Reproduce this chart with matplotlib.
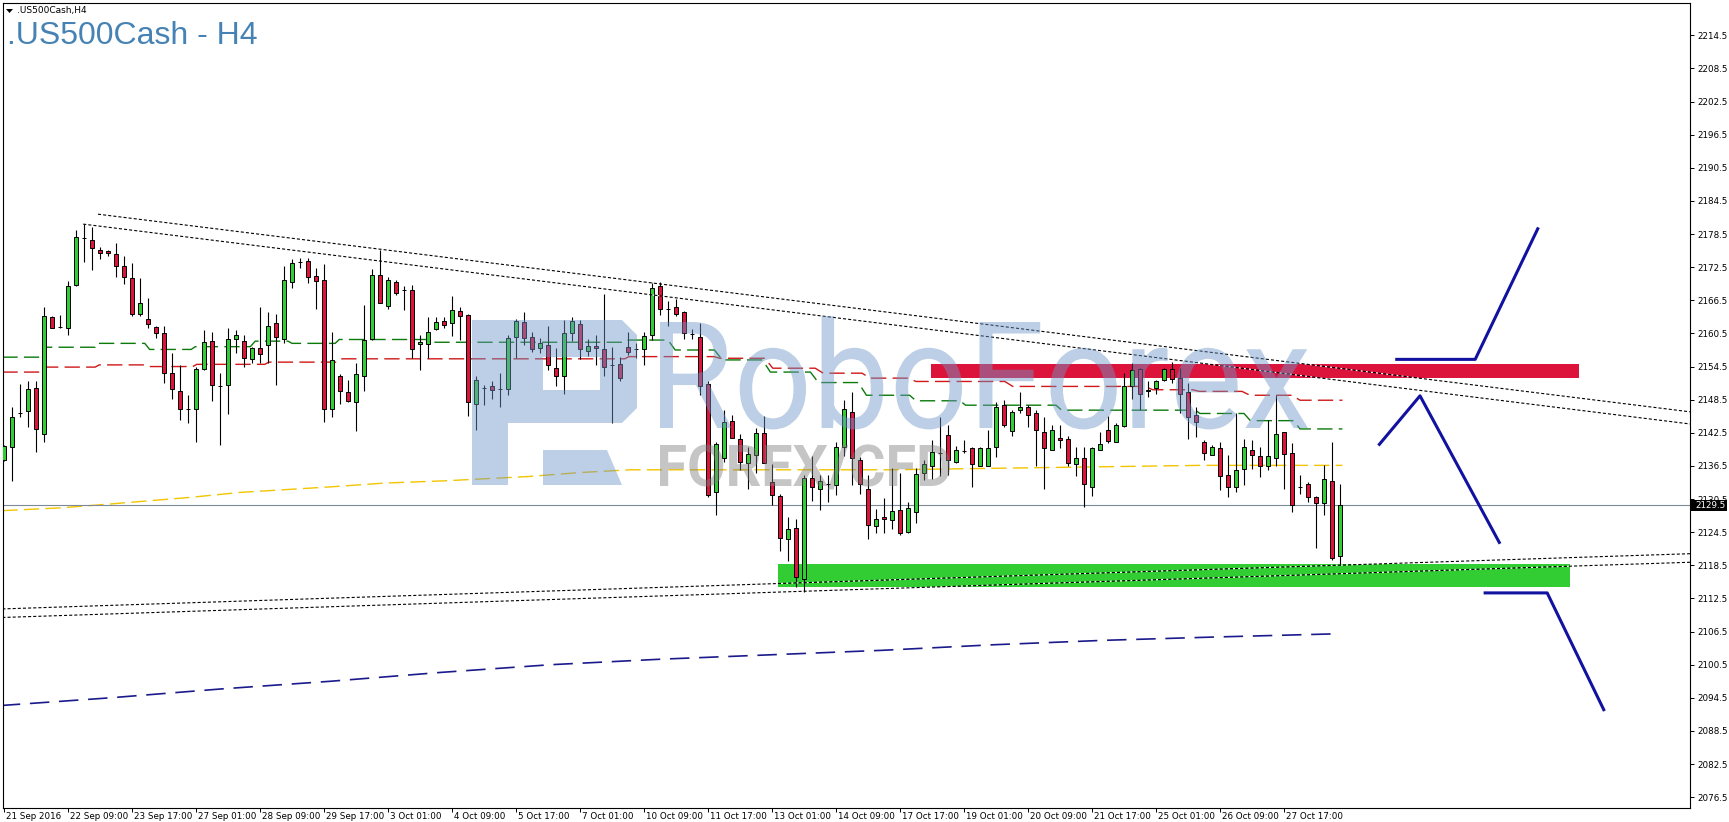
import matplotlib
matplotlib.use("Agg")
import matplotlib.pyplot as plt
from matplotlib.patches import Rectangle, PathPatch, Polygon
from matplotlib.path import Path
from matplotlib.textpath import TextPath
from matplotlib.font_manager import FontProperties
from matplotlib.transforms import Affine2D, IdentityTransform
import numpy as np

plt.rcParams['lines.scale_dashes'] = False

W, H = 1729, 822

# ---- candles (H4 bars, index 0 = 21 Sep 2016 01:00) ----
opens = [2137.6, 2140.0, 2146.0, 2146.4, 2150.6, 2142.2, 2163.4, 2161.6, 2161.4, 2169.3,
         2177.7, 2177.5, 2175.6, 2175.4, 2174.8, 2172.8, 2170.5, 2164.0, 2163.2, 2161.7,
         2160.5, 2153.4, 2150.0, 2146.9, 2146.8, 2154.1, 2159.2, 2151.0, 2151.2, 2159.4,
         2159.1, 2155.9, 2157.8, 2158.4, 2162.3, 2159.4, 2169.8, 2173.5, 2173.6, 2170.9,
         2170.1, 2146.9, 2152.7, 2149.8, 2148.0, 2152.7, 2159.5, 2171.0, 2165.4, 2169.9,
         2168.4, 2168.4, 2158.5, 2158.5, 2161.3, 2162.7, 2162.4, 2164.6, 2163.8, 2147.7,
         2150.6, 2150.9, 2150.4, 2150.4, 2159.9, 2162.5, 2159.8, 2157.8, 2158.4, 2154.3,
         2152.7, 2160.6, 2162.2, 2157.3, 2158.2, 2157.7, 2154.8, 2154.9, 2158.1, 2157.7,
         2157.6, 2160.3, 2169.0, 2165.0, 2165.2, 2164.3, 2160.4, 2159.9, 2151.3, 2131.7,
         2138.0, 2144.7, 2141.3, 2137.0, 2138.5, 2142.5, 2133.5, 2131.1, 2123.2, 2125.2,
         2116.0, 2134.3, 2132.4, 2133.3, 2133.0, 2140.0, 2146.3, 2137.5, 2132.3, 2125.6,
         2127.2, 2126.7, 2128.6, 2124.5, 2128.2, 2135.3, 2136.4, 2138.9, 2142.1, 2137.3,
         2139.2, 2139.7, 2136.5, 2136.5, 2140.0, 2147.5, 2142.8, 2146.6, 2147.1, 2146.0,
         2142.7, 2139.4, 2141.6, 2141.3, 2136.9, 2138.0, 2132.7, 2139.4, 2143.0, 2140.9,
         2143.7, 2150.9, 2154.0, 2150.0, 2150.6, 2152.1, 2154.0, 2152.4, 2149.8, 2145.8,
         2140.9, 2138.5, 2139.7, 2134.9, 2132.7, 2135.9, 2139.4, 2138.3, 2136.4, 2137.9,
         2142.6, 2138.8, 2132.7, 2133.2, 2130.8, 2129.8, 2133.8, 2120.2]
highs = [2140.3, 2147.2, 2151.3, 2151.8, 2151.8, 2165.2, 2163.7, 2163.8, 2170.0, 2179.2,
         2180.3, 2179.8, 2176.2, 2175.7, 2176.9, 2174.5, 2173.2, 2170.5, 2166.9, 2161.9,
         2161.9, 2157.0, 2154.8, 2149.3, 2154.5, 2161.1, 2160.8, 2153.3, 2161.5, 2161.1,
         2160.2, 2158.1, 2165.2, 2164.3, 2164.1, 2172.7, 2174.0, 2174.1, 2174.1, 2172.3,
         2173.0, 2160.8, 2153.1, 2152.1, 2155.1, 2165.6, 2172.1, 2175.7, 2170.7, 2170.2,
         2169.1, 2169.2, 2160.2, 2163.5, 2163.5, 2163.4, 2167.2, 2165.3, 2164.1, 2152.8,
         2151.1, 2151.9, 2153.3, 2160.2, 2163.2, 2164.4, 2160.8, 2159.6, 2161.8, 2157.8,
         2162.9, 2163.5, 2162.9, 2159.4, 2160.2, 2167.6, 2158.1, 2156.3, 2160.8, 2158.7,
         2160.8, 2169.9, 2169.9, 2166.3, 2166.7, 2164.6, 2161.3, 2162.4, 2151.9, 2140.9,
         2146.6, 2145.8, 2142.3, 2140.0, 2143.4, 2145.5, 2136.8, 2131.4, 2127.2, 2126.8,
         2134.9, 2138.3, 2134.9, 2134.9, 2140.9, 2148.4, 2149.8, 2138.2, 2134.9, 2128.7,
         2130.6, 2136.2, 2135.2, 2130.0, 2136.1, 2137.6, 2141.2, 2145.4, 2143.9, 2140.1,
         2141.2, 2140.0, 2140.0, 2143.0, 2148.1, 2148.4, 2146.7, 2149.9, 2147.5, 2146.6,
         2145.4, 2143.9, 2143.9, 2141.9, 2140.0, 2140.0, 2140.0, 2142.7, 2145.5, 2144.2,
         2153.3, 2155.1, 2154.3, 2151.8, 2152.1, 2154.2, 2155.4, 2154.2, 2151.5, 2147.2,
         2141.2, 2140.3, 2140.9, 2138.5, 2146.0, 2141.3, 2141.2, 2140.0, 2144.8, 2149.3,
         2142.7, 2140.6, 2134.9, 2133.5, 2131.0, 2136.7, 2140.8, 2133.3]
lows = [2137.4, 2133.7, 2145.3, 2143.5, 2139.1, 2140.9, 2161.4, 2161.4, 2160.3, 2169.0,
        2173.5, 2171.9, 2174.0, 2174.5, 2170.8, 2169.5, 2163.7, 2163.7, 2161.5, 2159.7,
        2151.5, 2148.7, 2144.9, 2144.3, 2140.8, 2153.9, 2148.2, 2140.2, 2145.9, 2156.9,
        2154.4, 2155.1, 2155.2, 2155.1, 2151.2, 2158.8, 2168.8, 2172.3, 2169.7, 2164.9,
        2144.4, 2145.4, 2147.7, 2148.1, 2142.9, 2150.1, 2159.3, 2166.0, 2165.0, 2167.5,
        2164.7, 2156.0, 2153.9, 2156.0, 2161.1, 2161.4, 2160.0, 2159.3, 2145.6, 2143.0,
        2147.5, 2148.6, 2147.2, 2149.3, 2156.0, 2158.4, 2157.2, 2157.0, 2153.9, 2150.9,
        2149.6, 2159.2, 2155.8, 2156.4, 2154.8, 2152.7, 2144.3, 2151.8, 2156.6, 2156.0,
        2154.8, 2159.3, 2163.8, 2161.8, 2163.7, 2159.4, 2159.4, 2149.3, 2130.9, 2127.6,
        2137.3, 2141.5, 2135.8, 2132.4, 2135.3, 2137.0, 2129.5, 2121.1, 2119.3, 2114.5,
        2113.7, 2130.2, 2128.6, 2129.9, 2131.2, 2138.3, 2133.0, 2131.4, 2123.2, 2124.4,
        2124.3, 2125.0, 2123.9, 2124.3, 2126.2, 2133.9, 2134.1, 2134.7, 2134.9, 2137.0,
        2138.8, 2132.7, 2136.4, 2136.5, 2138.2, 2143.5, 2141.9, 2146.0, 2143.5, 2136.5,
        2132.4, 2139.3, 2139.7, 2136.4, 2134.6, 2129.1, 2131.1, 2139.3, 2140.7, 2140.8,
        2143.6, 2148.7, 2146.6, 2148.9, 2149.5, 2151.8, 2151.5, 2146.0, 2141.3, 2141.8,
        2137.6, 2138.5, 2132.2, 2130.8, 2131.7, 2133.0, 2136.0, 2134.5, 2135.8, 2136.4,
        2132.4, 2128.2, 2131.5, 2130.0, 2121.7, 2127.7, 2119.4, 2118.5]
closes = [2140.1, 2145.4, 2146.0, 2150.4, 2143.1, 2163.7, 2161.4, 2161.6, 2169.0, 2177.9,
          2177.7, 2175.9, 2175.0, 2175.0, 2172.7, 2170.7, 2164.1, 2166.0, 2162.2, 2160.5,
          2153.3, 2150.4, 2146.9, 2146.9, 2154.1, 2159.0, 2151.2, 2151.0, 2159.4, 2160.3,
          2156.0, 2157.9, 2156.8, 2161.9, 2159.8, 2170.2, 2173.2, 2173.5, 2170.7, 2170.0,
          2146.9, 2155.7, 2150.1, 2148.3, 2153.1, 2159.3, 2171.0, 2166.0, 2170.2, 2167.9,
          2168.4, 2157.6, 2158.9, 2160.8, 2162.5, 2162.1, 2164.7, 2163.7, 2148.0, 2152.0,
          2150.6, 2150.3, 2150.4, 2159.6, 2162.7, 2159.6, 2157.6, 2158.7, 2154.8, 2152.8,
          2160.5, 2162.7, 2157.6, 2158.3, 2157.8, 2154.4, 2154.8, 2152.5, 2157.2, 2157.7,
          2160.1, 2168.8, 2164.9, 2165.0, 2164.0, 2160.5, 2160.4, 2151.0, 2131.3, 2140.4,
          2144.5, 2141.5, 2137.3, 2138.6, 2142.4, 2137.1, 2131.3, 2123.4, 2125.1, 2116.3,
          2134.4, 2132.6, 2133.8, 2133.3, 2139.9, 2146.8, 2137.9, 2133.2, 2125.8, 2126.8,
          2126.8, 2128.4, 2124.3, 2128.8, 2135.0, 2136.8, 2139.0, 2138.9, 2137.6, 2139.4,
          2139.2, 2136.8, 2139.7, 2139.8, 2147.2, 2144.0, 2146.3, 2147.2, 2145.8, 2143.0,
          2139.7, 2143.0, 2141.2, 2137.1, 2138.0, 2133.2, 2139.7, 2140.5, 2141.1, 2143.9,
          2151.0, 2153.9, 2149.5, 2150.2, 2151.8, 2154.0, 2152.2, 2149.5, 2145.4, 2144.4,
          2138.8, 2140.0, 2134.6, 2132.7, 2135.8, 2139.9, 2138.5, 2136.5, 2138.3, 2142.2,
          2138.6, 2129.5, 2132.7, 2130.8, 2129.7, 2134.1, 2119.9, 2129.5]

date_labels = ["21 Sep 2016", "22 Sep 09:00", "23 Sep 17:00", "27 Sep 01:00", "28 Sep 09:00",
               "29 Sep 17:00", "3 Oct 01:00", "4 Oct 09:00", "5 Oct 17:00", "7 Oct 01:00",
               "10 Oct 09:00", "11 Oct 17:00", "13 Oct 01:00", "14 Oct 09:00", "17 Oct 17:00",
               "19 Oct 01:00", "20 Oct 09:00", "21 Oct 17:00", "25 Oct 01:00", "26 Oct 09:00",
               "27 Oct 17:00"]
bars_per_label = 8

price_ticks = [2076.5, 2082.5, 2088.5, 2094.5, 2100.5, 2106.5, 2112.5, 2118.5, 2124.5,
               2130.5, 2136.5, 2142.5, 2148.5, 2154.5, 2160.5, 2166.5, 2172.5, 2178.5,
               2184.5, 2190.5, 2196.5, 2202.5, 2208.5, 2214.5]
bid_price = 2129.5

# ---- indicator step lines (bar index, price) ----
ma_green_x = [-0.2, 4.8, 5.0, 11.4, 11.6, 17.6, 18.2, 23.4, 23.9, 30.8, 31.4, 35.5, 36.0, 41.4,
              41.9, 53.2, 53.9, 77.2, 77.8, 83.0, 83.9, 88.8, 89.8, 94.8, 95.8, 100.8, 101.8,
              106.8, 107.8, 113.2, 114.0, 119.5, 120.2, 131.5, 132.2, 148.9, 149.5, 155.0,
              155.8, 161.2, 162.0, 167.3]
ma_green_y = [2156.2, 2156.2, 2158.0, 2158.0, 2158.7, 2158.7, 2157.6, 2157.6, 2158.1, 2158.1,
              2159.1, 2159.1, 2158.7, 2158.7, 2159.4, 2159.4, 2158.9, 2158.9, 2159.3, 2159.3,
              2157.5, 2157.5, 2155.7, 2155.7, 2153.5, 2153.5, 2151.6, 2151.6, 2149.3, 2149.3,
              2148.3, 2148.3, 2147.5, 2147.5, 2146.6, 2146.6, 2146.0, 2146.0, 2144.7, 2144.7,
              2143.2, 2143.2]
ma_red_x = [-0.2, 4.6, 5.1, 11.4, 11.9, 17.6, 18.1, 23.6, 24.1, 32.6, 33.1, 41.75, 42.25,
            77.6, 78.1, 88.75, 89.5, 95.1, 96.1, 101.4, 102.4, 107.25, 108.25, 113.0, 114.0,
            125.1, 126.1, 142.6, 143.6, 148.6, 149.4, 154.75, 155.75, 161.0, 162.0, 167.3]
ma_red_y = [2153.5, 2153.5, 2154.4, 2154.4, 2154.8, 2154.8, 2154.5, 2154.5, 2154.9, 2154.9,
            2155.3, 2155.3, 2155.9, 2155.9, 2156.3, 2156.3, 2156.0, 2156.0, 2154.2, 2154.2,
            2153.3, 2153.3, 2152.4, 2152.4, 2151.8, 2151.8, 2150.9, 2150.9, 2150.3, 2150.3,
            2150.0, 2150.0, 2149.3, 2149.3, 2148.4, 2148.4]
ma_yellow_x = [-0.2, 7.0, 13.25, 23.25, 29.5, 40.75, 47.6, 55.1, 65.75, 72.0, 78.25, 110.75,
               149.5, 167.3]
ma_yellow_y = [2128.4, 2128.9, 2129.6, 2130.8, 2131.7, 2132.7, 2133.4, 2133.8, 2134.6, 2135.3,
               2135.8, 2135.8, 2136.6, 2136.6]
ma_blue_x = [-0.4, 13.3, 27.1, 40.85, 54.6, 68.4, 82.2, 96.0, 109.75, 123.55, 137.3, 151.1, 166.8]
ma_blue_y = [2093.1, 2094.5, 2096.1, 2097.5, 2099.1, 2100.5, 2101.5, 2102.3, 2103.1, 2104.1,
             2104.9, 2105.5, 2106.1]

# ---- drawn objects ----
trend_upper = [([11.75, 210.75], [2182.1, 2146.3]), ([9.9, 210.75], [2180.3, 2144.1])]
trend_lower = [([-0.2, 210.75], [2110.6, 2120.6]), ([-0.2, 210.75], [2109.05, 2119.05])]
resist_zone = (115.9, 196.9, 2152.5, 2154.9)
support_zone = (96.8, 195.8, 2114.6, 2118.7)
scenario_paths = [([173.9, 183.9, 191.8], [2155.8, 2155.8, 2179.7]),
                  ([171.8, 177.0, 187.0], [2140.2, 2149.2, 2122.4]),
                  ([184.95, 192.9, 200.05], [2113.5, 2113.5, 2092.1])]

BULL = '#32CD32'
BEAR = '#DC143C'
LABEL_SIZE = 6.3

fig = plt.figure(figsize=(W / 100, H / 100), dpi=100)
fig.patch.set_facecolor('white')
ax = fig.add_axes([3 / W, 14 / H, 1687 / W, 805 / H])
ax.set_xlim(-0.125, 210.75)
ax.set_ylim(2074.54, 2220.35)

o = np.array(opens)
h = np.array(highs)
l = np.array(lows)
c = np.array(closes)
x = np.arange(len(o))

# zones
ax.add_patch(Rectangle((resist_zone[0], resist_zone[2]), resist_zone[1] - resist_zone[0],
                       resist_zone[3] - resist_zone[2], facecolor=BEAR, edgecolor='none', zorder=1))
ax.add_patch(Rectangle((support_zone[0], support_zone[2]), support_zone[1] - support_zone[0],
                       support_zone[3] - support_zone[2], facecolor=BULL, edgecolor='none', zorder=1))

# indicator lines
ax.plot(ma_yellow_x, ma_yellow_y, color='#F2C500', lw=1.0, dashes=(11, 4.5), zorder=2)
ax.plot(ma_red_x, ma_red_y, color='#D01818', lw=1.0, dashes=(11, 4.5), zorder=2)
ax.plot(ma_green_x, ma_green_y, color='#0A7A0A', lw=1.0, dashes=(11, 4.5), zorder=2)
ax.plot(ma_blue_x, ma_blue_y, color='#1A1A8C', lw=1.2, dashes=(14, 7), zorder=2)

# bid line
ax.axhline(bid_price, color='#7F8A99', lw=0.8, zorder=2)

# candles
ax.vlines(x, l, h, color='black', lw=0.8, zorder=3)
colors = [BULL if cc >= oo else BEAR for oo, cc in zip(o, c)]
ax.bar(x, np.abs(c - o), bottom=np.minimum(o, c), width=0.62, color=colors,
       edgecolor='black', linewidth=0.7, zorder=4)

# trend lines
for xs, ys in trend_upper + trend_lower:
    ax.plot(xs, ys, color='black', lw=0.8, dashes=(2.2, 1.5), gapcolor='white', zorder=5)

# scenario arrows
for xs, ys in scenario_paths:
    ax.plot(xs, ys, color='#1212A0', lw=2.2, solid_capstyle='butt', zorder=6)

# axes styling
for sp in ax.spines.values():
    sp.set_color('black')
    sp.set_linewidth(0.8)
ax.yaxis.tick_right()
ax.set_yticks(price_ticks)
ax.set_yticklabels([f"{v:.1f}" for v in price_ticks])
ax.tick_params(axis='y', direction='out', length=3, width=0.7, pad=2, labelsize=LABEL_SIZE,
               colors='black')
tick_pos = [i * bars_per_label for i in range(len(date_labels))]
ax.set_xticks(tick_pos)
ax.tick_params(axis='x', direction='out', length=3, width=0.7, labelbottom=False)
for p, lab in zip(tick_pos, date_labels):
    ax.text(p + 0.3, -0.005, lab, transform=ax.get_xaxis_transform(), ha='left', va='top',
            fontsize=LABEL_SIZE, color='black')

# bid label box
fig.add_artist(Rectangle((1690 / W, 1 - 511 / H), 37 / W, 11 / H, transform=fig.transFigure,
                         facecolor='black', edgecolor='none', zorder=5))
fig.text(1695 / W, 1 - 505.5 / H, f"{bid_price:.1f}", color='white', fontsize=LABEL_SIZE,
         va='center', ha='left', zorder=6)

# titles
fig.text(7 / W, 1 - 44 / H, ".US500Cash - H4", fontsize=23, color='#4682B4',
         family='Liberation Sans', va='baseline', zorder=6)
fig.text(17 / W, 1 - 13.5 / H, ".US500Cash,H4", fontsize=6.5, color='black', va='baseline', zorder=6)
fig.add_artist(Polygon([(6 / W, 1 - 9 / H), (13 / W, 1 - 9 / H), (9.5 / W, 1 - 13 / H)],
                       closed=True, transform=fig.transFigure, facecolor='black',
                       edgecolor='none', zorder=6))


# watermark (pixel coordinates of the image, origin top-left)
def px(points):
    return [(a, H - b) for a, b in points]


def text_block(s, family, weight, x0, x1, ytop, ybase, color, alpha):
    fp = FontProperties(family=family, weight=weight)
    tp = TextPath((0, 0), s, size=100, prop=fp)
    ext = tp.get_extents()
    cap = TextPath((0, 0), "H", size=100, prop=fp).get_extents().y1
    sx = (x1 - x0) / (ext.x1 - ext.x0)
    sy = (ybase - ytop) / cap
    tr = Affine2D().translate(-ext.x0, 0).scale(sx, sy).translate(x0, H - ybase)
    fig.add_artist(PathPatch(tp, transform=tr, facecolor=color, edgecolor='none',
                             alpha=alpha, zorder=3))


WM_BLUE = '#6E96C8'
text_block("RoboForex", 'Roboto', 'normal', 660, 1308, 322, 428, WM_BLUE, 0.45)
text_block("FOREX/CFD", 'Roboto', 'bold', 660, 950, 445, 486, '#808080', 0.45)

logo_outer = [(472, 320), (622, 320), (637, 335), (637, 408), (622, 423), (508, 423),
              (508, 485), (472, 485)]
logo_hole = [(543, 357), (543, 390), (600, 390), (600, 357)]
verts = px(logo_outer) + [(0, 0)] + px(logo_hole) + [(0, 0)]
codes = ([Path.MOVETO] + [Path.LINETO] * (len(logo_outer) - 1) + [Path.CLOSEPOLY] +
         [Path.MOVETO] + [Path.LINETO] * (len(logo_hole) - 1) + [Path.CLOSEPOLY])
fig.add_artist(PathPatch(Path(verts, codes), transform=IdentityTransform(), facecolor=WM_BLUE,
                         edgecolor='none', alpha=0.45, zorder=3))
logo_leg = [(543, 450), (607, 450), (622, 485), (543, 485)]
fig.add_artist(Polygon(px(logo_leg), closed=True, transform=IdentityTransform(),
                       facecolor=WM_BLUE, edgecolor='none', alpha=0.45, zorder=3))

fig.savefig("out.png", dpi=100)
